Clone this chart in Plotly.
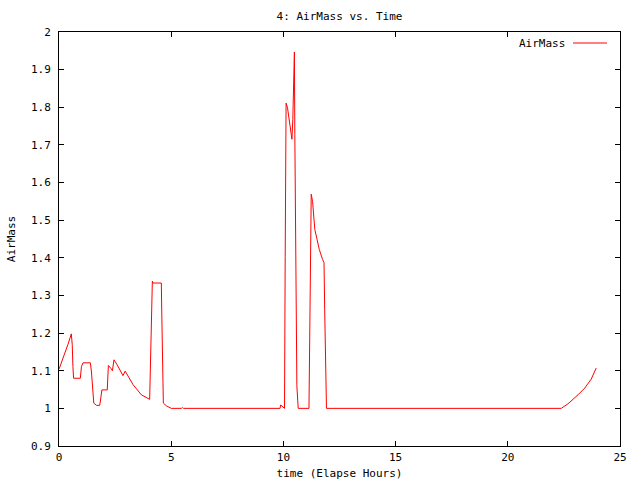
import plotly.graph_objects as go

time_h = [0.0, 0.2, 0.4, 0.55, 0.59, 0.62, 0.65, 0.95, 1.0, 1.07, 1.4, 1.45, 1.5, 1.55, 1.67, 1.81, 1.84, 1.88, 1.91, 2.15, 2.18, 2.2,
          2.33, 2.38, 2.45, 2.6, 2.85, 2.95, 3.3, 3.67, 4.04, 4.07, 4.11, 4.16, 4.19, 4.56, 4.58, 4.63, 4.65, 4.78, 5.0,
          5.45, 5.5, 5.55, 9.85, 9.88, 9.98, 10.05, 10.08, 10.12, 10.18, 10.25, 10.32, 10.38, 10.42, 10.45, 10.49, 10.51,
          10.57, 10.6, 10.64, 10.66, 11.14, 11.16, 11.2, 11.24, 11.3, 11.4, 11.5, 11.6, 11.75, 11.81, 11.84, 11.88, 11.92,
          22.38, 22.68, 23.13, 23.43, 23.72, 23.94]
airmass = [1.104, 1.135, 1.17, 1.198, 1.169, 1.111, 1.08, 1.08, 1.111, 1.121, 1.121, 1.094, 1.04, 1.014, 1.008, 1.008, 1.017, 1.04, 1.049, 1.049, 1.08, 1.114,
           1.105, 1.1, 1.129, 1.115, 1.087, 1.099, 1.063, 1.036, 1.024, 1.1, 1.258, 1.338, 1.333, 1.333, 1.253, 1.1, 1.014, 1.007, 1.0,
           1.0, 1.002, 1.0, 1.0, 1.009, 1.005, 1.0, 1.404, 1.811, 1.8, 1.765, 1.742, 1.715, 1.768, 1.884, 1.947, 1.728,
           1.298, 1.06, 1.02, 1.0, 1.0, 1.142, 1.427, 1.569, 1.55, 1.475, 1.449, 1.422, 1.395, 1.387, 1.262, 1.12, 1.0,
           1.0, 1.012, 1.036, 1.054, 1.078, 1.107]

x_ticks = [0, 5, 10, 15, 20, 25]
y_ticks = [0.9, 1.0, 1.1, 1.2, 1.3, 1.4, 1.5, 1.6, 1.7, 1.8, 1.9, 2.0]
y_tick_labels = ["0.9", "1", "1.1", "1.2", "1.3", "1.4", "1.5", "1.6", "1.7", "1.8", "1.9", "2"]

FONT = "DejaVu Sans Mono"
FS = 11

L, R, T, B = 59, 20, 32, 34
PW, PH = 640 - L - R, 480 - T - B

fig = go.Figure()
fig.add_trace(go.Scatter(x=time_h, y=airmass, mode="lines", name="AirMass",
                         line=dict(color="#ff0000", width=1), showlegend=False))

axis_common = dict(showline=True, linecolor="black", linewidth=1, mirror="ticks",
                   ticks="inside", ticklen=5, tickcolor="black", showgrid=False, zeroline=False,
                   automargin=False, tickfont=dict(family=FONT, size=FS, color="black"))

fig.update_layout(
    width=640, height=480,
    margin=dict(l=L, r=R, t=T, b=B),
    paper_bgcolor="white", plot_bgcolor="white",
    font=dict(family=FONT, size=FS, color="black"),
    title=dict(text="4: AirMass vs. Time", xref="paper", x=0.5, xanchor="center",
               yref="container", y=1 - 16/480, yanchor="middle",
               font=dict(family=FONT, size=FS, color="black")),
    xaxis=dict(range=[0, 25], tickvals=x_ticks, ticktext=[str(v) for v in x_ticks],
               title=dict(text="time (Elapse Hours)", standoff=6, font=dict(family=FONT, size=FS)),
               ticklabelstandoff=1, **axis_common),
    yaxis=dict(range=[0.9, 2.0], tickvals=y_ticks, ticktext=y_tick_labels,
               title=dict(text="AirMass", standoff=13, font=dict(family=FONT, size=FS)),
               ticklabelstandoff=5, **axis_common),
)

fig.add_annotation(xref="paper", yref="paper", x=(567-L)/PW, y=1 - (43-T)/PH,
                   text="AirMass", showarrow=False, xanchor="right", yanchor="middle",
                   font=dict(family=FONT, size=FS, color="black"))
fig.add_shape(type="line", xref="paper", yref="paper",
              x0=(573-L)/PW, x1=(607-L)/PW, y0=1 - (43-T)/PH, y1=1 - (43-T)/PH,
              line=dict(color="#ff0000", width=1))

fig.write_html("out.html", config={"displayModeBar": False},
               post_script="document.body.style.margin='0';document.body.style.overflow='hidden';")
